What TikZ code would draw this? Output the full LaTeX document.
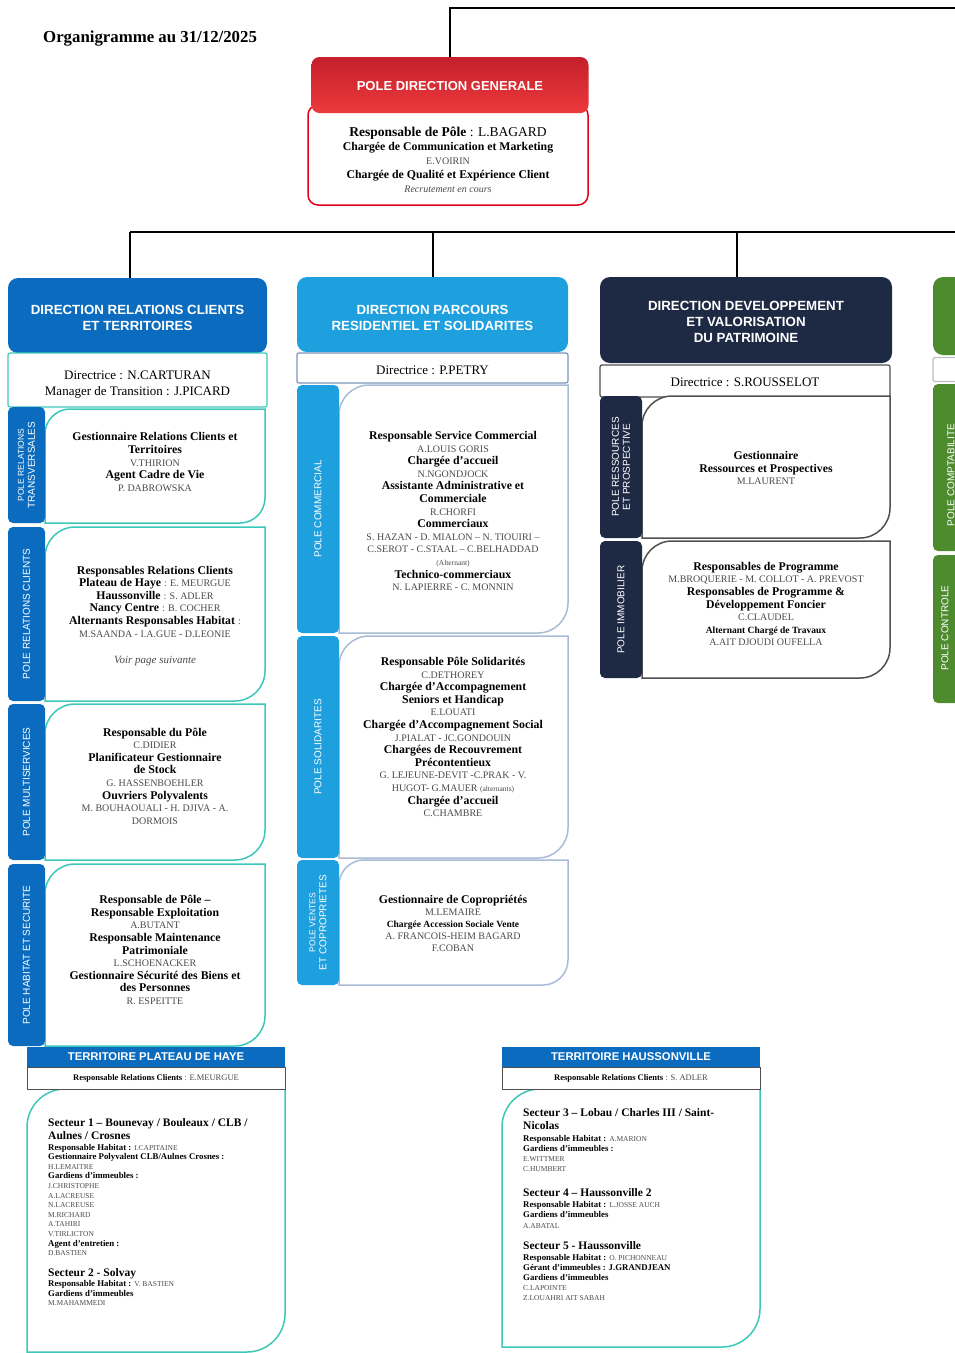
\documentclass[tikz,border=0pt]{standalone}
\usepackage{fontspec}
\setmainfont{Liberation Serif}
\newfontfamily\hsans{Liberation Sans}
\definecolor{dblue}{HTML}{0B6CBF}
\definecolor{lblue}{HTML}{1E9FDE}
\definecolor{navyc}{HTML}{1E2A44}
\definecolor{greenc}{HTML}{4E8B2F}
\definecolor{tealb}{HTML}{3CC8B8}
\definecolor{pgray}{HTML}{A9BBD6}
\definecolor{dgray}{HTML}{7D95BA}
\definecolor{cgray}{HTML}{505050}
\definecolor{ngray}{HTML}{4A4A4A}
\definecolor{redtop}{HTML}{C41F2B}
\definecolor{redbot}{HTML}{EC3A3C}
\definecolor{redline}{HTML}{E2001A}
\newcommand{\contentbox}[6]{\draw[#6, line width=1.5pt, fill=white] (#1,#2+#5) .. controls (#1,#2+0.45*#5) and (#1+0.45*#5,#2) .. (#1+#5,#2) -- (#3,#2) -- (#3,#4-#5) .. controls (#3,#4-0.45*#5) and (#3-0.45*#5,#4) .. (#3-#5,#4) -- (#1,#4) -- cycle;}
\newcommand{\poletab}[6]{\fill[#5, rounded corners=5pt] (#1,#2) rectangle (#3,#4);
\node[tabtxt] at ({(#1+#3)/2},{(#2+#4)/2}) {#6};}
\newcommand{\nm}[1]{{\mdseries\fontsize{10}{12.6}\selectfont\color{ngray}#1}}
\newcommand{\tn}[1]{{\mdseries\fontsize{7.5}{9.6}\selectfont\color{ngray}#1}}
\newcommand{\bigf}{\fontsize{11.5}{9.6}\selectfont}
\newcommand{\tightlines}{\lineskiplimit-50pt\relax}
\begin{document}
\begin{tikzpicture}[x=1pt,y=-1pt,
 conn/.style={line width=2pt, black},
 hdr/.style={rounded corners=10pt, inner sep=0pt},
 hdrtxt/.style={inner sep=0pt, text=white, align=center, font=\hsans\bfseries\fontsize{13.3}{15.8}\selectfont},
 dirbox/.style={fill=white, rounded corners=2pt, line width=1.2pt, inner sep=0pt},
 dirtxt/.style={inner sep=0pt, align=center, font=\fontsize{13}{16}\selectfont},
 body/.style={font=\fontsize{11.8}{12.6}\selectfont\bfseries, align=center, inner sep=0pt},
 tabtxt/.style={rotate=90, text=white, align=center, inner sep=0pt, font=\hsans\fontsize{10}{11}\selectfont},
 terhdr/.style={fill=dblue, minimum width=258pt, minimum height=20pt, inner sep=0pt, text=white, font=\hsans\bfseries\fontsize{11.3}{13}\selectfont},
 terresp/.style={draw=cgray, fill=white, line width=1pt, minimum width=258pt, minimum height=22pt, inner sep=0pt, font=\fontsize{8.5}{10}\selectfont\bfseries},
 tertxt/.style={anchor=north west, align=left, inner sep=0pt, font=\fontsize{8.8}{9.6}\selectfont\bfseries\tightlines},
]
\useasboundingbox (0,0) rectangle (955,1353);
\clip (0,0) rectangle (955,1353);

% title
\node[anchor=west, inner sep=0pt, font=\fontsize{16.8}{19}\selectfont\bfseries] (title) at (43,39) {Organigramme au 31/12/2025};

% PDG
\node[draw=redline, line width=1.5pt, rounded corners=10pt, fill=white, minimum width=280pt, minimum height=100pt, inner sep=0pt] (pdgb) at (448,155) {};
\node[hdr, rounded corners=8pt, top color=redtop, bottom color=redbot, minimum width=277pt, minimum height=56pt] (pdg) at (450,85) {};
\node[hdrtxt, font=\hsans\bfseries\fontsize{13}{15.5}\selectfont] (pdgl) at (450,86) {POLE DIRECTION GENERALE};
\node[align=center, inner sep=0pt, font=\fontsize{11.8}{14}\selectfont\bfseries] (pdgt) at (448,160) {{\fontsize{13.5}{14}\selectfont Responsable de Pôle \mdseries: L.BAGARD}\\ Chargée de Communication et Marketing\\ \nm{E.VOIRIN}\\ Chargée de Qualité et Expérience Client\\ {\mdseries\itshape\fontsize{10}{14}\selectfont\color{ngray}Recrutement en cours}};

% connectors
\coordinate (tr) at (955,8);
\draw[conn] (pdg.north) |- (tr);
\coordinate (b1) at (130,232);
\coordinate (b2) at (433,232);
\coordinate (b3) at (737,232);
\coordinate (br) at (955,232);

% headers
\node[hdr, fill=dblue, minimum width=259pt, minimum height=75pt] (h1) at (137.5,315.5) {};
\node[hdrtxt] (h1t) at (137.5,318) {DIRECTION RELATIONS CLIENTS\\ET TERRITOIRES};
\node[hdr, fill=lblue, minimum width=271pt, minimum height=75pt] (h2) at (432.5,314.5) {};
\node[hdrtxt] (h2t) at (432.5,318) {DIRECTION PARCOURS\\RESIDENTIEL ET SOLIDARITES};
\node[hdr, fill=navyc, minimum width=292pt, minimum height=86pt] (h3) at (746,320) {};
\node[hdrtxt] (h3t) at (746,322) {DIRECTION DEVELOPPEMENT\\ET VALORISATION\\DU PATRIMOINE};
\node[hdr, fill=greenc, minimum width=100pt, minimum height=78pt] (h4) at (983,316) {};

\draw[conn] (b1) -- (br);
\draw[conn] (b1) -- (b1 |- h1.north);
\draw[conn] (b2) -- (b2 |- h2.north);
\draw[conn] (b3) -- (b3 |- h3.north);

% directors
\node[dirbox, draw=tealb, minimum width=259pt, minimum height=54pt] (d1) at (137.5,380) {};
\node[dirtxt] (d1t) at (137.5,384.5) {Directrice : N.CARTURAN\\Manager de Transition : J.PICARD};
\node[dirbox, draw=dgray, minimum width=271pt, minimum height=30pt] (d2) at (432.5,368) {};
\node[dirtxt] (d2t) at (432.5,370.5) {Directrice : P.PETRY};
\node[dirbox, draw=cgray, minimum width=290pt, minimum height=32pt] (d3) at (745,381) {};
\node[dirtxt] (d3t) at (745,382.5) {Directrice : S.ROUSSELOT};
\node[dirbox, draw=gray!50, minimum width=100pt, minimum height=24pt] (d4) at (983,369.5) {};

% column 1
\contentbox{45}{409}{265}{523}{25}{tealb}
\contentbox{45}{527}{265}{701}{30}{tealb}
\contentbox{45}{704}{265}{860}{30}{tealb}
\contentbox{45}{864}{265}{1046}{30}{tealb}
\poletab{8}{407}{45}{523}{dblue}{\fontsize{8.5}{10.5}\selectfont POLE RELATIONS\\TRANSVERSALES}
\poletab{8}{527}{45}{701}{dblue}{POLE RELATIONS CLIENTS}
\poletab{8}{704}{45}{860}{dblue}{POLE MULTISERVICES}
\poletab{8}{864}{45}{1046}{dblue}{POLE HABITAT ET SECURITE}

\node[body] (c1a) at (155,462) {Gestionnaire Relations Clients et\\ Territoires\\ \nm{V.THIRION}\\ Agent Cadre de Vie\\ \nm{P. DABROWSKA}};
\node[body] (c1b) at (155,616) {Responsables Relations Clients\\ Plateau de Haye \nm{: E. MEURGUE}\\ Haussonville \nm{: S. ADLER}\\ Nancy Centre \nm{: B. COCHER}\\ Alternants Responsables Habitat \nm{:}\\ \nm{M.SAANDA - I.A.GUE - D.LEONIE}\\[14pt] {\mdseries\itshape\fontsize{11}{12.6}\selectfont\color{ngray}Voir page suivante}};
\node[body] (c1c) at (155,776) {Responsable du Pôle\\ \nm{C.DIDIER}\\ Planificateur Gestionnaire\\ de Stock\\ \nm{G. HASSENBOEHLER}\\ Ouvriers Polyvalents\\ \nm{M. BOUHAOUALI - H. DJIVA - A.}\\ \nm{DORMOIS}};
\node[body] (c1d) at (155,950) {Responsable de Pôle –\\ Responsable Exploitation\\ \nm{A.BUTANT}\\ Responsable Maintenance\\ Patrimoniale\\ \nm{L.SCHOENACKER}\\ Gestionnaire Sécurité des Biens et\\ des Personnes\\ \nm{R. ESPEITTE}};

% column 2
\contentbox{339}{385}{568}{633}{30}{pgray}
\contentbox{339}{636}{568}{858}{30}{pgray}
\contentbox{339}{860}{568}{985}{25}{pgray}
\poletab{297}{385}{339}{633}{lblue}{POLE COMMERCIAL}
\poletab{297}{636}{339}{858}{lblue}{POLE SOLIDARITES}
\poletab{297}{860}{339}{985}{lblue}{\fontsize{8.5}{10}\selectfont POLE VENTES\\ET COPROPRIETES}

\node[body] (c2a) at (453,511) {Responsable Service Commercial\\ \nm{A.LOUIS GORIS}\\ Chargée d’accueil\\ \nm{N.NGONDJOCK}\\ Assistante Administrative et\\ Commerciale\\ \nm{R.CHORFI}\\ Commerciaux\\ \nm{S. HAZAN - D. MIALON – N. TIOUIRI –}\\ \nm{C.SEROT - C.STAAL – C.BELHADDAD}\\ {\mdseries\fontsize{7.5}{12.6}\selectfont\color{ngray}(Alternant)}\\ Technico-commerciaux\\ \nm{N. LAPIERRE - C. MONNIN}};
\node[body] (c2b) at (453,737) {Responsable Pôle Solidarités\\ \nm{C.DETHOREY}\\ Chargée d’Accompagnement\\ Seniors et Handicap\\ \nm{E.LOUATI}\\ Chargée d’Accompagnement Social\\ \nm{J.PIALAT - JC.GONDOUIN}\\ Chargées de Recouvrement\\ Précontentieux\\ \nm{G. LEJEUNE-DEVIT -C.PRAK - V.}\\ \nm{HUGOT- G.MAUER {\fontsize{7.5}{12.6}\selectfont(alternants)}}\\ Chargée d’accueil\\ \nm{C.CHAMBRE}};
\node[body, font=\fontsize{11.8}{12}\selectfont\bfseries] (c2c) at (453,923) {Gestionnaire de Copropriétés\\ \nm{M.LEMAIRE}\\ {\fontsize{9.5}{12}\selectfont Chargée Accession Sociale Vente}\\ \nm{A. FRANCOIS-HEIM BAGARD}\\ \nm{F.COBAN}};

% column 3
\contentbox{642}{396}{890}{538}{30}{cgray}
\contentbox{642}{541}{890}{678}{30}{cgray}
\poletab{600}{396}{642}{538}{navyc}{POLE RESSOURCES\\ET PROSPECTIVE}
\poletab{600}{541}{642}{678}{navyc}{POLE IMMOBILIER}

\node[body] (c3a) at (766,468) {Gestionnaire\\ Ressources et Prospectives\\ \nm{M.LAURENT}};
\node[body] (c3b) at (766,604) {Responsables de Programme\\ \nm{M.BROQUERIE - M. COLLOT - A. PREVOST}\\ Responsables de Programme \&\\ Développement Foncier\\ \nm{C.CLAUDEL}\\ {\fontsize{9.5}{12.6}\selectfont Alternant Chargé de Travaux}\\ \nm{A.AIT DJOUDI OUFELLA}};

% column 4 (cut by the page edge)
\fill[greenc, rounded corners=5pt] (933,384) rectangle (990,551);
\fill[greenc, rounded corners=5pt] (933,555) rectangle (990,703);
\node[tabtxt] (c4a) at (951,475) {POLE COMPTABILITE};
\node[tabtxt] (c4b) at (945,628) {POLE CONTROLE};

% territory Plateau de Haye
\contentbox{27}{1089}{285}{1352}{38}{tealb}
\node[terhdr] (tph) at (156,1057) {TERRITOIRE PLATEAU DE HAYE};
\node[terresp] (tpr) at (156,1078) {Responsable Relations Clients \mdseries\color{ngray}: E.MEURGUE};
\node[tertxt] (tpt) at (48,1118) {{\bigf Secteur 1 – Bounevay / Bouleaux / CLB /}\\[3.4pt]
{\bigf Aulnes / Crosnes}\\[1.4pt]
Responsable Habitat : \tn{I.CAPITAINE}\\
Gestionnaire Polyvalent CLB/Aulnes Crosnes :\\
\tn{H.LEMAITRE}\\
Gardiens d’immeubles :\\
\tn{J.CHRISTOPHE}\\
\tn{A.LACREUSE}\\
\tn{N.LACREUSE}\\
\tn{M.RICHARD}\\
\tn{A.TAHIRI}\\
\tn{V.TIRLICTON}\\
Agent d’entretien :\\
\tn{D.BASTIEN}\\[11.4pt]
{\bigf Secteur 2 - Solvay}\\[0.4pt]
Responsable Habitat : \tn{V. BASTIEN}\\
Gardiens d’immeubles\\
\tn{M.MAHAMMEDI}};

% territory Haussonville
\contentbox{502}{1089}{760}{1347}{38}{tealb}
\node[terhdr] (thh) at (631,1057) {TERRITOIRE HAUSSONVILLE};
\node[terresp] (thr) at (631,1078) {Responsable Relations Clients \mdseries\color{ngray}: S. ADLER};
\node[tertxt, font=\fontsize{8.8}{10.2}\selectfont\bfseries\tightlines] (tht) at (523,1108) {{\bigf Secteur 3 – Lobau / Charles III / Saint-}\\[2.8pt]
{\bigf Nicolas}\\[1.8pt]
Responsable Habitat : \tn{A.MARION}\\
Gardiens d’immeubles :\\
\tn{E.WITTMER}\\
\tn{C.HUMBERT}\\[14.8pt]
{\bigf Secteur 4 – Haussonville 2}\\[0.8pt]
Responsable Habitat : \tn{L.JOSSE AUCH}\\
Gardiens d’immeubles\\
\tn{A.ABATAL}\\[10.8pt]
{\bigf Secteur 5 - Haussonville}\\[0.8pt]
Responsable Habitat : \tn{O. PICHONNEAU}\\
Gérant d’immeubles : J.GRANDJEAN\\
Gardiens d’immeubles\\
\tn{C.LAPOINTE}\\
\tn{Z.LOUAHRI AIT SABAH}};
\end{tikzpicture}
\end{document}
